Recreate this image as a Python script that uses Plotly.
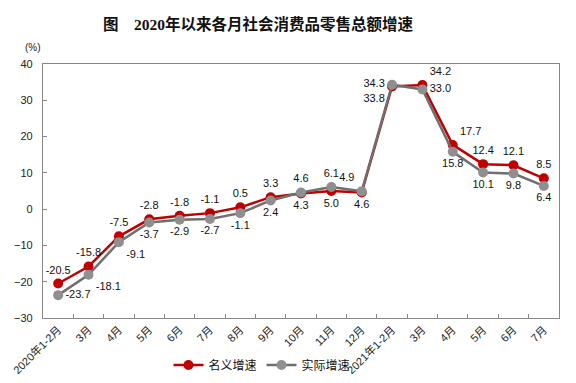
import plotly.graph_objects as go

keys = ["2020-0102", "2020-03", "2020-04", "2020-05", "2020-06", "2020-07", "2020-08",
        "2020-09", "2020-10", "2020-11", "2020-12", "2021-0102", "2021-03", "2021-04",
        "2021-05", "2021-06", "2021-07"]
tick_labels = ["2020年1-2月", "3月", "4月", "5月", "6月", "7月", "8月", "9月", "10月", "11月",
               "12月", "2021年1-2月", "3月", "4月", "5月", "6月", "7月"]
nominal = [-20.5, -15.8, -7.5, -2.8, -1.8, -1.1, 0.5, 3.3, 4.3, 5.0, 4.6, 33.8, 34.2, 17.7, 12.4, 12.1, 8.5]
real = [-23.7, -18.1, -9.1, -3.7, -2.9, -2.7, -1.1, 2.4, 4.6, 6.1, 4.9, 34.3, 33.0, 15.8, 10.1, 9.8, 6.4]

nom_pos = ["top center"] * 8 + ["bottom center"] * 3 + ["bottom left", "top right", "top right",
                                                          "top center", "top center", "top center"]
real_pos = ["middle right", "bottom right", "bottom right"] + ["bottom center"] * 5 + [
    "top center", "top center", "top left", "middle left", "middle right",
    "bottom center", "bottom center", "bottom center", "bottom center"]

RED = "#c00000"
GRAY_M = "#8f8f8f"
GRAY_L = "#6f6f6f"
FONT = "Liberation Sans, Arial, Noto Sans CJK SC, sans-serif"

fig = go.Figure()
fig.add_trace(go.Scatter(
    x=keys, y=nominal, name="名义增速", mode="lines+markers+text",
    line=dict(color=RED, width=2.5), marker=dict(color=RED, size=10),
    text=[f"{v:.1f}" for v in nominal], textposition=nom_pos,
    textfont=dict(size=11, color="#111111", family=FONT),
))
fig.add_trace(go.Scatter(
    x=keys, y=real, name="实际增速", mode="lines+markers+text",
    line=dict(color=GRAY_L, width=2.5), marker=dict(color=GRAY_M, size=10),
    text=[f"{v:.1f}" for v in real], textposition=real_pos,
    textfont=dict(size=11, color="#111111", family=FONT),
))

fig.update_layout(
    width=576, height=383, autosize=False,
    margin=dict(l=43, r=17, t=64, b=65, pad=0, autoexpand=False),
    paper_bgcolor="white", plot_bgcolor="white",
    font=dict(family=FONT, size=11, color="#222222"),
    title=dict(text="<b>图　2020年以来各月社会消费品零售总额增速</b>",
               x=258 / 576, xanchor="center", y=1 - 25 / 383, yanchor="middle",
               font=dict(size=15.5, family="Liberation Serif, Noto Sans CJK SC, serif", color="#111111")),
    showlegend=True,
    legend=dict(orientation="h", xref="container", yref="container",
                x=262 / 576, xanchor="center", y=1 - 365 / 383, yanchor="middle",
                font=dict(size=12, family=FONT, color="#111111"), itemwidth=30,
                bgcolor="rgba(0,0,0,0)"),
    xaxis=dict(type="category", categoryorder="array", categoryarray=keys,
               range=[-0.5, len(keys) - 0.5], autorange=False,
               tickmode="array", tickvals=keys, ticktext=tick_labels,
               tickson="boundaries", ticks="inside", ticklen=4, tickcolor="#888888",
               tickangle=-45, tickfont=dict(size=11),
               showline=True, linecolor="#888888", linewidth=1.2, mirror=True,
               showgrid=False, automargin=False),
    yaxis=dict(range=[-30, 40], autorange=False, dtick=10, tick0=0, ticks="inside", ticklen=4,
               tickcolor="#888888", showline=True, linecolor="#888888", linewidth=1.2,
               mirror=True, showgrid=False, zeroline=False, tickfont=dict(size=11),
               ticklabelstandoff=7, automargin=False),
    annotations=[dict(text="(%)", xref="paper", yref="paper", x=-0.02, y=(318 - 48) / 254,
                      xanchor="center", yanchor="middle", showarrow=False,
                      font=dict(size=10, family=FONT, color="#222222"))],
)

fig.write_html("out.html", config={"displayModeBar": False},
               post_script="document.body.style.margin='0';document.body.style.padding='0';")
